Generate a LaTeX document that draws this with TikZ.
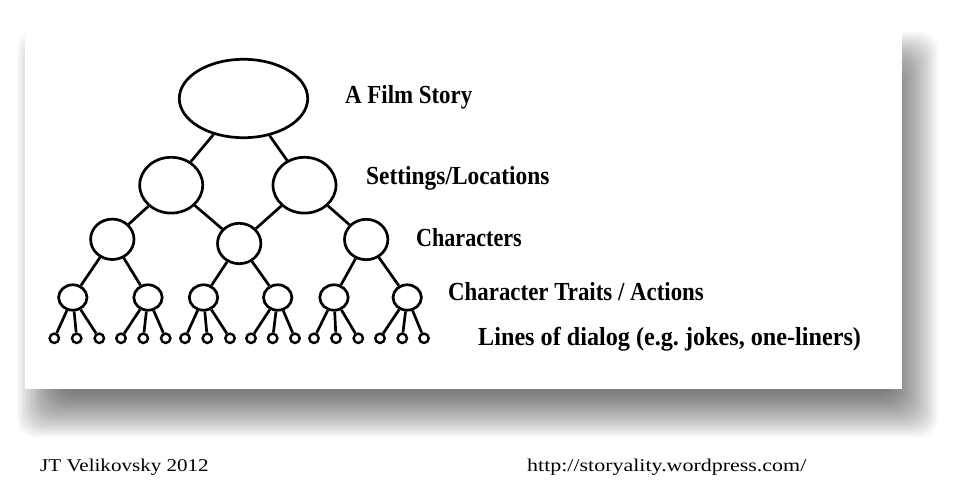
\documentclass[tikz,border=0pt]{standalone}
\usepackage{fontspec}
\usetikzlibrary{shapes.geometric}
\newfontfamily\labfont{Liberation Serif}
\newfontfamily\footfont{Liberation Serif}
\tikzset{
  nd/.style={draw=black, line width=2.7pt, ellipse, inner sep=0pt, fill=white},
  lvlzero/.style={nd, minimum width=128.4pt, minimum height=78.4pt},
  lvlone/.style={nd, minimum width=63pt, minimum height=55.8pt},
  lvltwo/.style={nd, minimum width=43.4pt, minimum height=40.4pt},
  lvlthree/.style={nd, minimum width=28.4pt, minimum height=25.4pt},
  leaf/.style={nd, line width=2.4pt, minimum width=9.4pt, minimum height=9.4pt},
  conn/.style={line width=2.7pt, black},
  lab/.style={anchor=base west, inner sep=0pt, font={\labfont\bfseries\fontsize{26}{30}\selectfont\addfontfeature{FakeStretch=#1}}},
  foot/.style={anchor=base west, inner sep=0pt, font={\footfont\fontsize{18}{22}\selectfont\addfontfeature{FakeStretch=#1}}}
}
\begin{document}
\begin{tikzpicture}[x=1pt,y=-1pt]
\useasboundingbox (0,0) rectangle (958,494);
\fill[white] (0,0) rectangle (958,494);
% soft shadow
\foreach \e in {-22,-20,...,22}{
  \fill[black, opacity=0.028, rounded corners=18pt] ({39-\e},{54-\e}) rectangle ({916+\e},{415+\e});
}
% card
\fill[white] (25,28) rectangle (902,389);

% nodes
\node[lvlzero] (r) at (243.5,98.5) {};
\node[lvlone] (a1) at (171.2,185.2) {};
\node[lvlone] (a2) at (304.5,185.2) {};
\node[lvltwo] (b1) at (112.3,239.3) {};
\node[lvltwo] (b2) at (239.2,243.5) {};
\node[lvltwo] (b3) at (366.2,239.5) {};
\foreach \x [count=\i] in {72.8,148,203.5,277.7,334,407.2}{
  \node[lvlthree] (c\i) at (\x,297.5) {};
}
\foreach \x [count=\i] in {54.3,76.7,99.3,121,143.3,165.7,185,207.3,230,251,272.7,295,314,336,358.3,380,402.3,424}{
  \node[leaf] (d\i) at (\x,338.3) {};
}

% connectors
\draw[conn] (r) -- (a1);
\draw[conn] (r) -- (a2);
\draw[conn] (a1) -- (b1);
\draw[conn] (a1) -- (b2);
\draw[conn] (a2) -- (b2);
\draw[conn] (a2) -- (b3);
\draw[conn] (b1) -- (c1);
\draw[conn] (b1) -- (c2);
\draw[conn] (b2) -- (c3);
\draw[conn] (b2) -- (c4);
\draw[conn] (b3) -- (c5);
\draw[conn] (b3) -- (c6);
\foreach \p in {1,...,6}{
  \pgfmathtruncatemacro{\da}{3*\p-2}
  \pgfmathtruncatemacro{\db}{3*\p-1}
  \pgfmathtruncatemacro{\dc}{3*\p}
  \draw[conn] (c\p) -- (d\da);
  \draw[conn] (c\p) -- (d\db);
  \draw[conn] (c\p) -- (d\dc);
}

% labels
\node[lab=0.88] (l0) at (345,104) {A Film Story};
\node[lab=0.90] (l1) at (366,185) {Settings/Locations};
\node[lab=0.85] (l2) at (416,247) {Characters};
\node[lab=0.88] (l3) at (448,300) {Character Traits / Actions};
\node[lab=0.93] (l4) at (478,345) {Lines of dialog (e.g.\ jokes, one-liners)};

\node[foot=1.17] (f1) at (40,471) {JT Velikovsky 2012};
\node[foot=1.22] (f2) at (527,471) {http://storyality.wordpress.com/};
\end{tikzpicture}
\end{document}
